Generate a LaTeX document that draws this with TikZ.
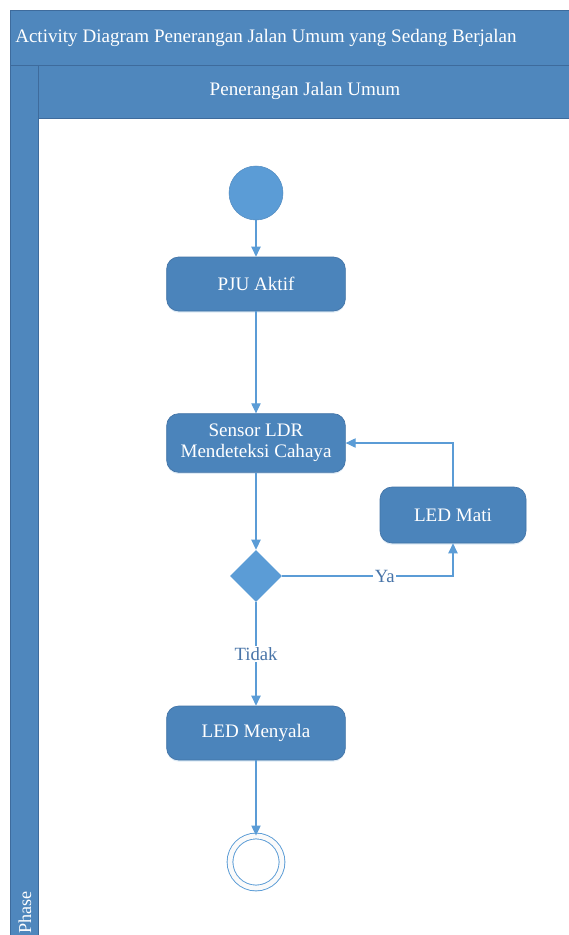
\documentclass[tikz,border=0pt]{standalone}
\usepackage{fontspec}
\setmainfont{Liberation Serif}
\usetikzlibrary{arrows.meta,shapes.geometric,shadows}

\definecolor{headblue}{RGB}{79,135,189}
\definecolor{edgeblue}{RGB}{62,107,156}
\definecolor{boxblue}{RGB}{75,132,187}
\definecolor{boxedge}{RGB}{66,115,166}
\definecolor{flowblue}{RGB}{91,156,214}
\definecolor{guardblue}{RGB}{72,116,168}

\begin{document}
\begin{tikzpicture}[
  x=0.75pt,y=-0.75pt,
  >={Triangle[length=7.5pt,width=7pt]},
  lane/.style={fill=headblue, draw=edgeblue, line width=0.6pt},
  action/.style={rectangle, rounded corners=9pt, fill=boxblue, draw=boxedge, line width=0.5pt,
    minimum width=134pt, minimum height=40.5pt, text=white, align=center,
    font=\fontsize{14.3}{16.5}\selectfont,
    drop shadow={shadow xshift=0pt, shadow yshift=-1.2pt, opacity=0.2, fill=flowblue}},
  startnode/.style={circle, fill=flowblue, draw=flowblue!90!black, line width=0.4pt, minimum size=40.5pt, inner sep=0pt},
  endnode/.style={circle, draw=flowblue, line width=0.7pt, double=black!2, double distance=3.6pt, minimum size=39pt, inner sep=0pt},
  decision/.style={diamond, fill=flowblue, minimum width=39pt, minimum height=39pt, inner sep=0pt},
  flow/.style={->, draw=flowblue, line width=0.8pt},
  guard/.style={fill=white, text=guardblue, inner sep=1pt, font=\fontsize{14}{16}\selectfont}
]
\useasboundingbox (0,0) rectangle (568,935);

% Swimlane frame
\fill[white] (0,0) rectangle (568,935);
\draw[lane] (10,10) rectangle (575,65);
\draw[lane] (10,65) rectangle (38,940);
\draw[lane] (38,65) rectangle (575,118);
\node[anchor=west, text=white, inner sep=0pt, font=\fontsize{14.3}{16.5}\selectfont] (title) at (15,38) {Activity Diagram Penerangan Jalan Umum yang Sedang Berjalan};
\node[text=white, inner sep=0pt, font=\fontsize{14.3}{16.5}\selectfont] (lanename) at (305,91) {Penerangan Jalan Umum};
\node[rotate=90, anchor=west, text=white, inner sep=0pt, font=\fontsize{13.6}{15}\selectfont] (phase) at (25,934) {Phase};

% Activity nodes
\node[startnode] (start) at (256,193) {};
\node[action] (pju) at (256,284) {PJU Aktif};
\node[action, minimum height=44pt] (sensor) at (256,443) {Sensor LDR\\[-1pt]Mendeteksi Cahaya};
\node[action, minimum width=109.5pt, minimum height=42pt] (mati) at (453,515) {LED Mati};
\node[decision] (cek) at (256,576) {};
\node[action] (nyala) at (256,733) {LED Menyala};
\node[endnode] (stop) at (256,862) {};

% Control flows
\draw[flow] (start) -- (pju);
\draw[flow] (pju) -- (sensor);
\draw[flow] (sensor) -- (cek);
\draw[flow] (cek) -- node[guard] {Tidak} (nyala);
\draw[flow] (cek.east) -| node[guard, pos=0.3] {Ya} (mati.south);
\draw[flow] (mati.north) |- (sensor.east);
\draw[flow] (nyala) -- (stop);

\end{tikzpicture}
\end{document}
